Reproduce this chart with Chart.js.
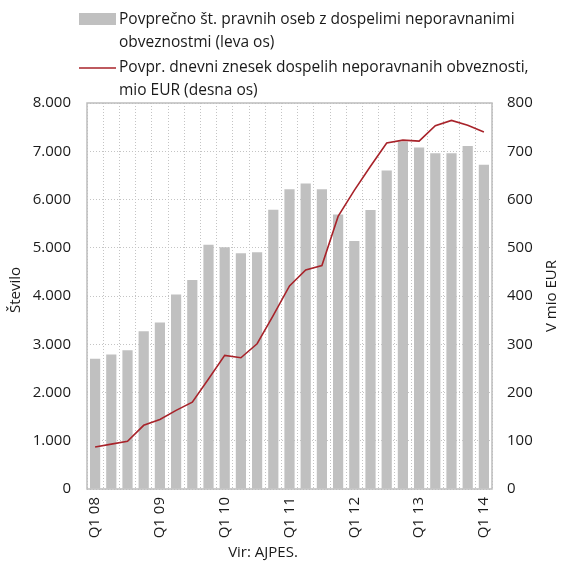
<!DOCTYPE html>
<html>
<head>
<meta charset="utf-8">
<script src="https://cdn.jsdelivr.net/npm/chart.js@4"></script>
<style>
  html, body { margin: 0; padding: 0; background: #ffffff; }
  #wrap { width: 561px; height: 561px; position: relative; }
</style>
</head>
<body>
<div id="wrap"><canvas id="c" width="561" height="561"></canvas></div>
<script>
// Quarterly categories, Q1 2008 – Q1 2014
const quarters = [
  'Q1 08','Q2 08','Q3 08','Q4 08',
  'Q1 09','Q2 09','Q3 09','Q4 09',
  'Q1 10','Q2 10','Q3 10','Q4 10',
  'Q1 11','Q2 11','Q3 11','Q4 11',
  'Q1 12','Q2 12','Q3 12','Q4 12',
  'Q1 13','Q2 13','Q3 13','Q4 13',
  'Q1 14'
];

// Average number of legal entities with overdue unsettled liabilities (left axis)
const legalEntities = [
  2700, 2785, 2875, 3270,
  3450, 4030, 4330, 5060,
  5010, 4885, 4905, 5785,
  6210, 6330, 6210, 5690,
  5140, 5780, 6600, 7200,
  7080, 6960, 6960, 7110,
  6720
];

// Average daily amount of overdue unsettled liabilities, EUR million (right axis)
const dailyAmount = [
  87, 93, 99, 132,
  144, 163, 180, 228,
  277, 272, 301, 360,
  421, 454, 463, 565,
  619, 669, 717, 723,
  721, 753, 764, 754,
  740
];

const seriesNames = [
  ['Povprečno št. pravnih oseb z dospelimi neporavnanimi', 'obveznostmi (leva os)'],
  ['Povpr. dnevni znesek dospelih neporavnanih obveznosti,', 'mio EUR (desna os)']
];
const leftTitle = 'Število';
const rightTitle = 'V mio EUR';
const sourceNote = 'Vir: AJPES.';

const FONT = '"Open Sans", Lato, sans-serif';
const BAR_COLOR = '#c0c0c0';
const LINE_COLOR = '#a8232a';
const GRID_COLOR = '#c4c4c4';
const TEXT_COLOR = '#1a1a1a';

// Legend, axis titles, source note and plot frame drawn on the canvas
const decorations = {
  id: 'decorations',
  afterDatasetsDraw(chart) {
    const { ctx, chartArea: a } = chart;
    ctx.save();
    ctx.strokeStyle = '#bdbdbd';
    ctx.lineWidth = 1.5;
    ctx.strokeRect(a.left, a.top, a.right - a.left, a.bottom - a.top);
    ctx.restore();
  },
  afterDraw(chart) {
    const { ctx, chartArea: a } = chart;
    ctx.save();
    ctx.fillStyle = TEXT_COLOR;
    ctx.font = '15.5px ' + FONT;
    ctx.textAlign = 'left';
    ctx.textBaseline = 'alphabetic';

    // legend: bar series
    ctx.fillStyle = BAR_COLOR;
    ctx.fillRect(79, 13, 37, 12);
    ctx.fillStyle = TEXT_COLOR;
    ctx.fillText(seriesNames[0][0], 119, 24);
    ctx.fillText(seriesNames[0][1], 119, 47);

    // legend: line series
    ctx.strokeStyle = LINE_COLOR;
    ctx.lineWidth = 1.5;
    ctx.beginPath();
    ctx.moveTo(79, 68);
    ctx.lineTo(116, 68);
    ctx.stroke();
    ctx.fillText(seriesNames[1][0], 119, 72);
    ctx.fillText(seriesNames[1][1], 119, 95);

    // axis titles, both reading upward
    ctx.font = '15px ' + FONT;
    const midY = (a.top + a.bottom) / 2;
    ctx.textAlign = 'center';
    ctx.textBaseline = 'middle';
    ctx.save();
    ctx.translate(16, midY - 6);
    ctx.rotate(-Math.PI / 2);
    ctx.fillText(leftTitle, 0, 0);
    ctx.restore();
    ctx.save();
    ctx.translate(552, midY);
    ctx.rotate(-Math.PI / 2);
    ctx.fillText(rightTitle, 0, 0);
    ctx.restore();

    // source note
    ctx.textBaseline = 'alphabetic';
    ctx.fillText(sourceNote, 263, 557);
    ctx.restore();
  }
};

new Chart(document.getElementById('c'), {
  data: {
    labels: quarters,
    datasets: [
      {
        type: 'line',
        label: seriesNames[1].join(' '),
        data: dailyAmount,
        yAxisID: 'yRight',
        borderColor: LINE_COLOR,
        borderWidth: 1.6,
        pointRadius: 0,
        tension: 0,
        fill: false,
        order: 0
      },
      {
        type: 'bar',
        label: seriesNames[0].join(' '),
        data: legalEntities,
        yAxisID: 'yLeft',
        backgroundColor: BAR_COLOR,
        borderWidth: 0,
        barPercentage: 0.63,
        categoryPercentage: 1.0,
        order: 1
      }
    ]
  },
  options: {
    responsive: false,
    animation: false,
    devicePixelRatio: 1,
    layout: { padding: { top: 103, left: 0, right: 0, bottom: 0 } },
    plugins: {
      legend: { display: false },
      tooltip: { enabled: false }
    },
    scales: {
      x: {
        type: 'category',
        offset: true,
        afterFit(scale) { scale.height = 72; },
        grid: {
          display: true,
          offset: true,
          color: GRID_COLOR,
          lineWidth: 1,
          drawTicks: false
        },
        border: { display: false, dash: [1, 2] },
        ticks: {
          autoSkip: false,
          minRotation: 90,
          maxRotation: 90,
          padding: 8,
          color: TEXT_COLOR,
          font: { family: FONT, size: 15 },
          callback(value, index) {
            return index % 4 === 0 ? quarters[index] : '';
          }
        }
      },
      yLeft: {
        type: 'linear',
        position: 'left',
        min: 0,
        max: 8000,
        afterFit(scale) { scale.width = 87; },
        grid: {
          color: GRID_COLOR,
          lineWidth: 1,
          drawTicks: false
        },
        border: { display: false, dash: [1, 2] },
        ticks: {
          stepSize: 1000,
          padding: 16,
          color: TEXT_COLOR,
          font: { family: FONT, size: 15 },
          callback(v) {
            return v === 0 ? '0' : v.toLocaleString('de-DE');
          }
        }
      },
      yRight: {
        type: 'linear',
        position: 'right',
        min: 0,
        max: 800,
        afterFit(scale) { scale.width = 69; },
        grid: { display: false, drawTicks: false },
        border: { display: false },
        ticks: {
          stepSize: 100,
          padding: 15,
          color: TEXT_COLOR,
          font: { family: FONT, size: 15 }
        }
      }
    }
  },
  plugins: [decorations]
});
</script>
</body>
</html>
